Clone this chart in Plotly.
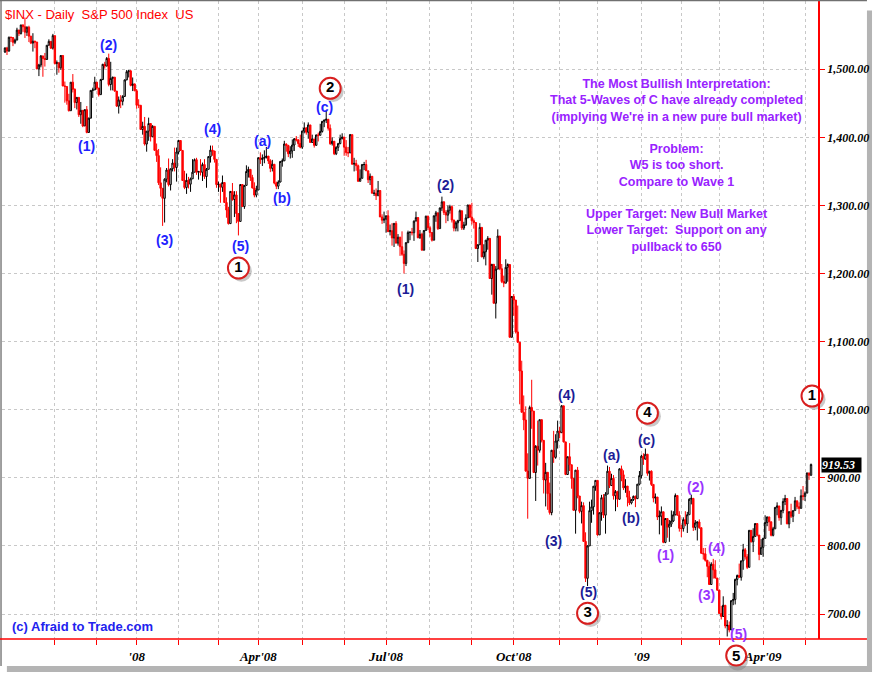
import plotly.graph_objects as go

# S&P 500 daily, 27 Sep 2007 .. 6 May 2009 (trading days per month)
month_days = [2, 23, 21, 20,
              21, 20, 20, 22, 21, 21, 22, 21, 21, 23, 19, 22,
              20, 19, 22, 21, 4]
# tick labels for month starts from Nov'07 on
month_labels = ["", "", "'08", "", "", "Apr'08", "", "", "Jul'08", "", "", "Oct'08",
                "", "", "'09", "", "", "Apr'09", ""]

first_open = 1525.4

closes = [
    1531.38, 1526.75,
    1547.04, 1546.63, 1539.59, 1542.84, 1557.59, 1552.58, 1565.15, 1562.47, 1554.41, 1561.80, 1548.71, 1538.53,
    1541.24, 1540.08, 1500.63, 1506.33, 1519.59, 1515.88, 1514.40, 1535.28, 1540.98, 1531.02, 1549.38,
    1508.44, 1509.65, 1502.17, 1520.27, 1475.62, 1474.77, 1453.70, 1439.18, 1481.05, 1470.58, 1451.15, 1458.74,
    1433.27, 1439.70, 1416.77, 1440.70, 1407.22, 1428.23, 1469.02, 1469.72, 1481.14,
    1472.42, 1462.79, 1485.01, 1507.34, 1504.66, 1515.96, 1477.65, 1486.59, 1488.41, 1467.95, 1445.90, 1454.98,
    1453.00, 1460.12, 1484.46, 1496.45, 1497.66, 1476.27, 1478.49, 1468.36,
    1447.16, 1447.16, 1411.63, 1416.18, 1390.19, 1409.13, 1420.33, 1401.02, 1416.25, 1380.95, 1373.20, 1333.25,
    1325.19, 1310.50, 1338.60, 1352.07, 1330.61, 1353.96, 1362.30, 1355.81, 1378.55,
    1395.42, 1380.82, 1336.64, 1326.45, 1336.91, 1331.29, 1339.13, 1348.86, 1367.21, 1348.86, 1349.99, 1348.78,
    1360.03, 1342.53, 1353.11, 1371.80, 1381.29, 1380.02, 1367.68, 1330.63,
    1331.34, 1326.75, 1333.70, 1304.34, 1293.37, 1273.37, 1320.65, 1308.77, 1315.48, 1288.14, 1276.60, 1330.74,
    1298.42, 1329.51, 1349.88, 1352.99, 1341.13, 1325.76, 1315.22, 1322.70,
    1370.18, 1367.53, 1369.31, 1370.40, 1372.54, 1365.54, 1354.49, 1360.55, 1332.83, 1328.32, 1334.43, 1364.71,
    1365.56, 1390.33, 1388.17, 1375.94, 1379.93, 1388.82, 1397.84, 1396.37, 1390.94, 1385.59,
    1409.34, 1413.90, 1407.49, 1418.26, 1392.57, 1397.68, 1388.28, 1403.58, 1403.04, 1408.66, 1423.57, 1425.35,
    1426.63, 1413.40, 1390.71, 1394.35, 1375.93, 1385.35, 1390.84, 1398.26, 1400.38,
    1385.67, 1377.65, 1377.20, 1404.05, 1360.68, 1361.76, 1358.44, 1335.49, 1339.87, 1360.03, 1360.14, 1350.93,
    1337.81, 1342.83, 1317.93, 1318.00, 1314.29, 1321.97, 1283.15, 1278.38, 1280.00,
    1284.91, 1261.52, 1262.90, 1252.31, 1273.70, 1244.69, 1253.39, 1239.49, 1228.30, 1214.91, 1245.36, 1260.32,
    1260.68, 1260.00, 1277.00, 1282.19, 1252.54, 1257.76, 1234.37, 1263.20, 1284.26, 1267.38,
    1260.31, 1249.01, 1284.88, 1289.19, 1266.07, 1296.32, 1305.32, 1289.59, 1285.83, 1292.93, 1298.20, 1278.60,
    1266.69, 1274.54, 1277.72, 1292.20, 1266.84, 1271.51, 1281.66, 1300.68, 1282.83,
    1277.58, 1274.98, 1236.83, 1242.31, 1267.79, 1224.51, 1232.04, 1249.05, 1251.70, 1192.70, 1213.60, 1156.39,
    1206.51, 1255.08, 1207.09, 1188.22, 1185.87, 1209.18, 1213.27, 1106.42, 1166.36,
    1161.06, 1114.28, 1099.23, 1056.89, 996.23, 984.94, 909.92, 899.22, 1003.35, 998.01, 907.84, 946.43,
    940.55, 985.40, 955.05, 896.78, 908.11, 876.77, 848.92, 940.51, 930.09, 954.09, 968.75,
    966.30, 1005.75, 952.77, 904.88, 930.99, 919.21, 898.95, 852.30, 911.29, 873.29, 850.75, 859.12,
    806.58, 752.44, 800.03, 851.81, 857.39, 887.68, 896.24,
    816.21, 848.81, 870.74, 845.22, 876.07, 909.70, 888.67, 899.24, 873.59, 879.73, 868.57, 913.18,
    904.42, 885.28, 887.88, 871.63, 863.16, 868.15, 872.80, 869.42, 890.64, 903.25,
    931.80, 927.45, 934.70, 906.65, 909.73, 890.35, 870.26, 871.79, 842.62, 843.74, 850.12, 805.22,
    840.24, 827.50, 831.95, 836.57, 845.71, 874.09, 845.14, 825.88,
    825.44, 838.51, 832.23, 845.85, 868.60, 869.89, 827.16, 833.74, 835.19, 826.84, 789.17, 788.42,
    778.94, 770.05, 743.33, 773.14, 764.90, 752.83, 735.09,
    700.82, 696.33, 712.87, 682.55, 683.38, 676.53, 719.60, 721.36, 750.74, 756.55, 753.89, 778.12,
    794.35, 784.04, 768.54, 822.92, 806.12, 813.88, 832.86, 815.94, 787.53, 797.87,
    811.08, 834.38, 842.50, 835.48, 815.55, 825.16, 856.56, 858.73, 841.50, 852.06, 865.30, 869.60,
    832.39, 850.08, 843.55, 851.92, 866.23, 857.51, 855.16, 873.64, 872.81,
    877.52, 907.24, 903.80, 919.53,
]

highs = [
    1532, 1533,
    1548, 1548, 1547, 1545, 1561, 1558, 1565, 1566, 1576, 1563, 1564, 1549,
    1553, 1542, 1540, 1508, 1521, 1520, 1524, 1535, 1544, 1541, 1552,
    1549, 1513, 1510, 1521, 1520, 1482, 1474, 1464, 1481, 1493, 1472, 1459,
    1458, 1452, 1439, 1441, 1446, 1429, 1469, 1473, 1489,
    1481, 1472, 1486, 1508, 1511, 1518, 1523, 1511, 1489, 1488, 1468, 1460,
    1462, 1462, 1485, 1499, 1499, 1499, 1488, 1479,
    1471, 1456, 1445, 1423, 1430, 1409, 1429, 1419, 1418, 1416, 1391, 1383,
    1356, 1322, 1340, 1355, 1369, 1354, 1368, 1385, 1385,
    1396, 1395, 1381, 1351, 1347, 1342, 1341, 1368, 1369, 1370, 1350, 1368,
    1363, 1368, 1355, 1372, 1388, 1388, 1380, 1368,
    1335, 1332, 1344, 1333, 1312, 1298, 1321, 1333, 1321, 1321, 1287, 1331,
    1331, 1330, 1359, 1357, 1353, 1345, 1334, 1329,
    1370, 1378, 1375, 1381, 1386, 1372, 1368, 1367, 1360, 1335, 1337, 1365,
    1369, 1395, 1391, 1389, 1387, 1397, 1399, 1402, 1397, 1404,
    1410, 1422, 1415, 1422, 1418, 1404, 1395, 1404, 1407, 1420, 1424, 1426,
    1440, 1426, 1419, 1400, 1394, 1387, 1392, 1404, 1406,
    1401, 1396, 1386, 1405, 1404, 1370, 1367, 1360, 1353, 1361, 1364, 1367,
    1351, 1347, 1343, 1323, 1325, 1336, 1322, 1287, 1291,
    1285, 1293, 1272, 1274, 1274, 1277, 1258, 1254, 1262, 1234, 1246, 1263,
    1262, 1267, 1278, 1291, 1283, 1264, 1260, 1264, 1285, 1285,
    1270, 1260, 1285, 1292, 1289, 1297, 1313, 1306, 1293, 1300, 1301, 1300,
    1279, 1277, 1279, 1294, 1292, 1276, 1287, 1301, 1301,
    1304, 1281, 1275, 1243, 1274, 1268, 1243, 1249, 1255, 1250, 1214, 1213,
    1211, 1265, 1255, 1214, 1197, 1221, 1215, 1210, 1167,
    1170, 1161, 1153, 1099, 1072, 1021, 1005, 936, 1006, 1044, 995, 948,
    984, 985, 985, 955, 922, 896, 893, 941, 969, 964, 984,
    975, 1007, 1005, 952, 931, 951, 919, 898, 911, 916, 873, 865,
    864, 820, 801, 865, 868, 888, 896,
    889, 849, 875, 876, 879, 918, 916, 906, 904, 882, 881, 914,
    918, 911, 898, 887, 881, 869, 874, 874, 891, 910,
    934, 936, 943, 934, 910, 911, 890, 877, 871, 852, 858, 850,
    841, 839, 838, 852, 851, 877, 874, 851,
    831, 842, 851, 850, 870, 875, 869, 838, 835, 839, 826, 797,
    797, 779, 777, 776, 781, 779, 751,
    735, 712, 726, 712, 691, 689, 720, 731, 752, 758, 774, 778,
    803, 797, 788, 823, 823, 826, 833, 832, 816, 810,
    812, 845, 843, 843, 835, 828, 857, 864, 857, 853, 870, 875,
    869, 851, 862, 852, 872, 865, 864, 883, 888,
    880, 907, 907, 921,
]

lows = [
    1524, 1521,
    1526, 1540, 1534, 1537, 1543, 1549, 1551, 1555, 1546, 1549, 1540, 1537,
    1526, 1531, 1500, 1490, 1503, 1489, 1504, 1514, 1535, 1530, 1529,
    1507, 1492, 1495, 1499, 1475, 1451, 1448, 1438, 1440, 1466, 1443, 1441,
    1430, 1420, 1415, 1417, 1406, 1407, 1428, 1458, 1470,
    1470, 1460, 1463, 1484, 1501, 1505, 1475, 1469, 1469, 1467, 1445, 1435,
    1443, 1447, 1460, 1484, 1488, 1475, 1468, 1468,
    1442, 1443, 1411, 1404, 1388, 1379, 1395, 1394, 1402, 1380, 1364, 1330,
    1313, 1270, 1275, 1334, 1328, 1322, 1350, 1350, 1335,
    1375, 1380, 1336, 1324, 1317, 1325, 1320, 1339, 1349, 1345, 1338, 1344,
    1336, 1339, 1326, 1354, 1363, 1373, 1363, 1326,
    1320, 1304, 1320, 1304, 1282, 1272, 1274, 1307, 1283, 1274, 1256, 1277,
    1298, 1295, 1330, 1341, 1336, 1325, 1312, 1312,
    1323, 1361, 1358, 1362, 1369, 1361, 1349, 1350, 1331, 1324, 1324, 1334,
    1357, 1366, 1379, 1371, 1369, 1370, 1380, 1394, 1386, 1384,
    1383, 1406, 1404, 1398, 1392, 1392, 1385, 1389, 1394, 1404, 1407, 1415,
    1421, 1410, 1389, 1388, 1374, 1374, 1380, 1390, 1397,
    1373, 1373, 1371, 1377, 1360, 1350, 1351, 1335, 1336, 1340, 1352, 1351,
    1333, 1330, 1318, 1314, 1308, 1315, 1283, 1273, 1274,
    1260, 1261, 1256, 1241, 1239, 1245, 1241, 1226, 1226, 1200, 1211, 1246,
    1249, 1256, 1248, 1277, 1252, 1251, 1234, 1234, 1264, 1264,
    1254, 1247, 1249, 1276, 1264, 1266, 1292, 1286, 1274, 1277, 1288, 1275,
    1262, 1262, 1262, 1278, 1264, 1264, 1270, 1282, 1282,
    1272, 1266, 1236, 1217, 1243, 1224, 1221, 1212, 1235, 1192, 1169, 1156,
    1134, 1207, 1205, 1186, 1180, 1186, 1188, 1106, 1107,
    1138, 1112, 1098, 1008, 996, 970, 909, 840, 899, 972, 907, 866,
    918, 937, 952, 877, 858, 853, 846, 845, 922, 928, 943,
    958, 971, 952, 904, 906, 910, 884, 852, 818, 870, 848, 833,
    806, 747, 741, 801, 834, 846, 881,
    815, 818, 837, 841, 818, 876, 885, 888, 868, 851, 857, 868,
    895, 882, 878, 858, 860, 861, 866, 857, 869, 889,
    899, 919, 927, 903, 896, 888, 864, 862, 838, 817, 830, 804,
    804, 812, 806, 828, 835, 845, 845, 821,
    813, 821, 829, 819, 846, 861, 822, 823, 808, 825, 789, 780,
    777, 754, 743, 743, 752, 752, 734,
    700, 692, 696, 679, 667, 673, 677, 713, 714, 742, 753, 749,
    765, 780, 766, 772, 805, 791, 814, 814, 779, 790,
    784, 812, 829, 822, 814, 814, 826, 845, 837, 831, 848, 860,
    832, 826, 841, 835, 852, 854, 847, 856, 867,
    866, 879, 897, 903,
]

# Elliott wave labels: text, trading-day index, price level
wave_text = ["(1)", "(2)", "(3)", "(4)", "(5)", "(a)", "(b)", "(c)"]
wave_idx = [41, 52, 80, 104, 118, 129, 139, 160]
wave_val = [1388, 1535, 1249, 1412, 1240, 1394, 1311, 1444]

wave2_text = ["(1)", "(2)", "(3)", "(4)", "(5)", "(a)", "(b)", "(c)"]
wave2_idx = [200.5, 221, 275, 281.5, 292.5, 304, 314, 321.5]
wave2_val = [1177, 1330, 807, 1021, 732, 933, 841, 955]

wave3_text = ["(1)", "(2)", "(3)", "(4)", "(5)"]
wave3_idx = [331, 346, 351.5, 356.5, 367.5]
wave3_val = [786, 886, 728, 797, 671]

# circled degree numbers (inside the price range)
circle_text = ["1", "2", "3", "4", "1"]
circle_idx = [117, 163, 292, 322, 404.5]
circle_val = [1208, 1472, 701, 995, 1020]
# circled "5" sits under the axis line, just below the March 2009 low
low5_text = "5"
low5_idx = 366.5

note_lines = ["The Most Bullish Interpretation:",
              "That 5-Waves of C have already completed",
              "(implying We're in a new pure bull market)",
              "",
              "Problem:",
              "W5 is too short.",
              "Compare to Wave 1",
              "",
              "Upper Target: New Bull Market",
              "Lower Target:\u00a0 Support on any",
              "pullback to 650"]

n = len(closes)
idx = list(range(n))
opens = [first_open] + closes[:-1]
highs = [max(h, o, c) for h, o, c in zip(highs, opens, closes)]
lows = [min(l, o, c) for l, o, c in zip(lows, opens, closes)]

starts = []
pos = 0
for d in month_days:
    starts.append(pos)
    pos += d
tick_vals = starts[2:]

RED = "#ff0000"
SANS = "Liberation Sans, Arial, sans-serif"
SERIF = "Liberation Serif, Times New Roman, serif"

fig = go.Figure()
fig.add_trace(go.Candlestick(
    x=idx, open=opens, high=highs, low=lows, close=closes,
    increasing=dict(line=dict(color="black", width=1), fillcolor="white"),
    decreasing=dict(line=dict(color=RED, width=1), fillcolor=RED),
    whiskerwidth=0, showlegend=False, hoverinfo="skip"))

# circled wave numbers, with a soft shadow
fig.add_trace(go.Scatter(
    x=[i + 1.5 for i in circle_idx], y=[v - 4.5 for v in circle_val], mode="markers",
    marker=dict(size=21, color="rgba(120,120,120,0.4)", line=dict(width=0)),
    cliponaxis=False, showlegend=False, hoverinfo="skip"))
fig.add_trace(go.Scatter(
    x=circle_idx, y=circle_val, mode="markers+text", text=circle_text,
    textposition="middle center",
    textfont=dict(family=SANS, size=15, color="black", weight="bold"),
    marker=dict(size=21, color="white", line=dict(color="#d81f1f", width=2)),
    cliponaxis=False, showlegend=False, hoverinfo="skip"))

annotations = []


def add_label(text, x, y, color):
    annotations.append(dict(x=x, y=y, xref="x", yref="y", text=text, showarrow=False,
                            font=dict(family=SANS, size=14, color=color, weight="bold")))


for t, i, v in zip(wave_text, wave_idx, wave_val):
    add_label(t, i, v, "#2222ff")
for t, i, v in zip(wave2_text, wave2_idx, wave2_val):
    add_label(t, i, v, "#1c1c96")
for t, i, v in zip(wave3_text, wave3_idx, wave3_val):
    add_label(t, i, v, "#9933ff")

# the circled 5 below the plot area (paper y)
y5 = -0.026
x5 = (low5_idx + 1.5) / (n + 4)
annotations.append(dict(x=x5, y=y5, xref="paper", yref="paper", text=low5_text, showarrow=False,
                        xanchor="center", yanchor="middle",
                        font=dict(family=SANS, size=15, color="black", weight="bold")))

annotations.append(dict(x=0.826, y=1358, xref="paper", yref="y", xanchor="center", yanchor="middle",
                        text="<br>".join(note_lines), showarrow=False, align="center",
                        font=dict(family=SANS, size=12.5, color="#9922ff", weight="bold")))

annotations.append(dict(x=0.0015, y=0.993, xref="paper", yref="paper", xanchor="left", yanchor="top",
                        text="$INX - Daily\u00a0 S&P 500 Index\u00a0 US", showarrow=False,
                        font=dict(family=SANS, size=13, color=RED)))
annotations.append(dict(x=0.01, y=0.005, xref="paper", yref="paper", xanchor="left", yanchor="bottom",
                        text="(c) Afraid to Trade.com", showarrow=False,
                        font=dict(family=SANS, size=13, color="#2222ee", weight="bold")))
annotations.append(dict(x=1, y=closes[-1], xref="paper", yref="y", xanchor="left", xshift=3,
                        text="%.2f\u00a0\u00a0" % closes[-1], showarrow=False, bgcolor="black",
                        borderpad=0,
                        font=dict(family=SERIF, size=12, color="white", style="italic", weight="bold")))

shapes = [
    # frame and shadow
    dict(type="rect", xref="paper", yref="paper", x0=1.0600, x1=1.0662, y0=-0.0517, y1=0.985,
         fillcolor="#b4b4b4", line=dict(width=0), layer="below"),
    dict(type="rect", xref="paper", yref="paper", x0=0.006, x1=1.0662, y0=-0.0517, y1=-0.0423,
         fillcolor="#b4b4b4", line=dict(width=0), layer="below"),
    dict(type="line", xref="paper", yref="paper", x0=-0.0012, x1=-0.0012, y0=-0.0423, y1=1.0015,
         line=dict(color="#808080", width=1.5)),
    dict(type="line", xref="paper", yref="paper", x0=-0.0025, x1=1.06, y0=1.0008, y1=1.0008,
         line=dict(color="#707070", width=1.5)),
    dict(type="line", xref="paper", yref="paper", x0=-0.0025, x1=1.06, y0=0, y1=0,
         line=dict(color=RED, width=1.5)),
    # circled 5 below the axis
    dict(type="circle", xref="paper", yref="paper", xsizemode="pixel", ysizemode="pixel",
         xanchor=x5 + 0.0018, yanchor=y5 - 0.007,
         x0=-10.5, x1=10.5, y0=-10.5, y1=10.5,
         fillcolor="rgba(120,120,120,0.4)", line=dict(width=0)),
    dict(type="circle", xref="paper", yref="paper", xsizemode="pixel", ysizemode="pixel",
         xanchor=x5, yanchor=y5,
         x0=-10, x1=10, y0=-10, y1=10,
         fillcolor="white", line=dict(color="#d81f1f", width=2)),
]

fig.update_layout(
    width=877, height=676,
    margin=dict(l=2, r=59, t=1, b=37),
    paper_bgcolor="white", plot_bgcolor="white",
    showlegend=False, hovermode=False, boxgap=0,
    annotations=annotations, shapes=shapes,
    xaxis=dict(range=[-1.5, n + 2.5], rangeslider=dict(visible=False),
               tickmode="array", tickvals=tick_vals, ticktext=month_labels,
               ticks="outside", ticklen=5, tickcolor=RED, tickwidth=1,
               showgrid=True, gridcolor="#c8c8c8", griddash="dot", gridwidth=1,
               showline=False, zeroline=False, fixedrange=True,
               tickfont=dict(family=SERIF, size=13, color="black", style="italic", weight="bold")),
    yaxis=dict(range=[663.3, 1600.3], side="right",
               tickmode="array", tickvals=[700, 800, 900, 1000, 1100, 1200, 1300, 1400, 1500],
               tickformat=",.2f",
               ticks="outside", ticklen=5, tickcolor=RED, tickwidth=1,
               showline=True, linecolor=RED, linewidth=1.5, mirror=False,
               showgrid=True, gridcolor="#c8c8c8", griddash="dot", gridwidth=1,
               zeroline=False, fixedrange=True,
               tickfont=dict(family=SERIF, size=12, color="black", style="italic", weight="bold")),
)

# the page's default body margin would shift the chart by 8px
fig.write_html("out.html", config={"displayModeBar": False},
               post_script="document.body.style.margin='0px';")
